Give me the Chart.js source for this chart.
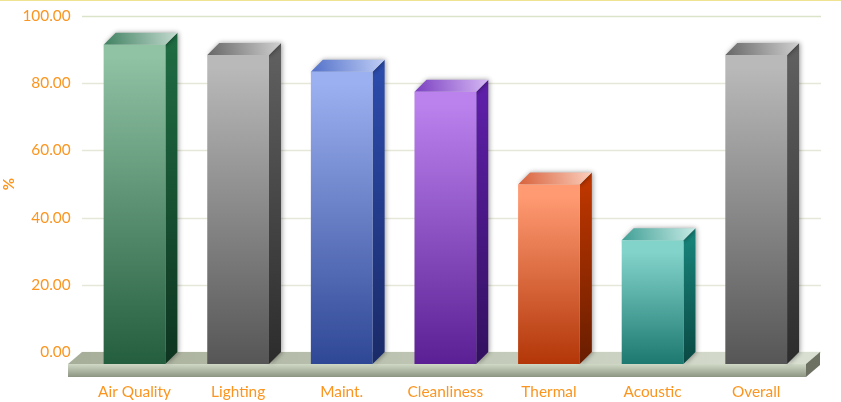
<!DOCTYPE html>
<html>
<head>
<meta charset="utf-8">
<title>Scores</title>
<script src="https://cdn.jsdelivr.net/npm/chart.js@4"></script>
<style>
  html, body { margin: 0; padding: 0; background: #fff; overflow: hidden; }
  #topline { position: absolute; left: 0; top: 0; width: 841px; height: 1px; background: #efe391; }
  canvas { display: block; }
</style>
</head>
<body>
<canvas id="chart" width="841" height="402"></canvas>
<div id="topline"></div>
<script>
const categories = ['Air Quality', 'Lighting', 'Maint.', 'Cleanliness', 'Thermal', 'Acoustic', 'Overall'];
const scores = [95, 92, 87, 81, 53.4, 36.8, 92];
const yTicks = [0, 20, 40, 60, 80, 100];

// front top, front bottom, side top, side bottom, roof dark, roof light
const palette = [
  ['#90c2a4', '#1f5a3a', '#1f6b42', '#0e3420', '#3f8060', '#c4dbd0'],
  ['#b9b9b9', '#525252', '#5f5f5f', '#2c2c2c', '#666666', '#d0d0d0'],
  ['#9bb0f0', '#2a4392', '#2b4bab', '#1a2a68', '#5270c8', '#c0cef6'],
  ['#bb82ee', '#561b90', '#5e1fa9', '#32105f', '#7a3fc0', '#d6b8f5'],
  ['#ff9a72', '#ad2f00', '#bd3600', '#681d00', '#d8603a', '#fbcfbd'],
  ['#82d3ca', '#126f67', '#178178', '#0a4843', '#3f9f95', '#c6eae5'],
  ['#b9b9b9', '#525252', '#5f5f5f', '#2c2c2c', '#666666', '#d0d0d0']
];

const ORANGE = '#fb951f';
const DEPTH = 12;
const SLAB = 13;

function vGrad(ctx, top, bottom, c1, c2) {
  const g = ctx.createLinearGradient(0, top, 0, bottom);
  g.addColorStop(0, c1);
  g.addColorStop(1, c2);
  return g;
}

function poly(ctx, pts, fill) {
  ctx.beginPath();
  pts.forEach((p, i) => i ? ctx.lineTo(p[0], p[1]) : ctx.moveTo(p[0], p[1]));
  ctx.closePath();
  ctx.fillStyle = fill;
  ctx.fill();
}

// back wall lines and the floor slab, all hung off the scales
const wallAndFloor = {
  id: 'wallAndFloor',
  beforeDatasetsDraw(chart) {
    const { ctx, scales: { y }, chartArea: a } = chart;
    const zero = y.getPixelForValue(0);
    const left = a.left - 0.7;
    const right = a.right + DEPTH + 1;

    ctx.save();
    yTicks.forEach(v => {
      const py = Math.round(y.getPixelForValue(v)) + 0.5;
      ctx.strokeStyle = v === 100 ? '#dbe4c9' : '#e5e8d9';
      ctx.lineWidth = 1.5;
      ctx.beginPath();
      ctx.moveTo(left, py);
      ctx.lineTo(right, py);
      ctx.stroke();
    });

    const fl = left - 14, fr = right - 14 - 1;
    const roof = ctx.createLinearGradient(fl, 0, fr, 0);
    roof.addColorStop(0, '#a6ad98');
    roof.addColorStop(1, '#d9dfd1');
    poly(ctx, [[left, zero], [right - 1, zero], [fr, zero + DEPTH], [fl, zero + DEPTH]], roof);
    poly(ctx, [[fl, zero + DEPTH], [fr, zero + DEPTH], [fr, zero + DEPTH + SLAB], [fl, zero + DEPTH + SLAB]],
      vGrad(ctx, zero + DEPTH, zero + DEPTH + SLAB, '#d0d8c6', '#8c9582'));
    poly(ctx, [[fr, zero + DEPTH], [right - 1, zero], [right - 1, zero + SLAB], [fr, zero + DEPTH + SLAB]], '#6c7161');
    ctx.restore();
  },
  // the library draws the front faces, shifted onto the front of the slab
  beforeDatasetDraw(chart, args) {
    const { ctx } = chart;
    ctx.save();
    ctx.translate(0, DEPTH);
    chart.getDatasetMeta(args.index).data.forEach((bar, i) => {
      const c = palette[i];
      const l = bar.x - bar.width / 2, r = bar.x + bar.width / 2;
      ctx.save();
      ctx.shadowColor = 'rgba(0,0,0,0.4)';
      ctx.shadowBlur = 5;
      ctx.shadowOffsetX = 1;
      poly(ctx, [[r, bar.y], [r + DEPTH, bar.y - DEPTH], [r + DEPTH, bar.base - DEPTH], [r, bar.base]],
        vGrad(ctx, bar.y, bar.base, c[2], c[3]));
      const roof = ctx.createLinearGradient(l, bar.y, r + DEPTH, bar.y - DEPTH);
      roof.addColorStop(0, c[4]);
      roof.addColorStop(1, c[5]);
      poly(ctx, [[l, bar.y], [l + DEPTH, bar.y - DEPTH], [r + DEPTH, bar.y - DEPTH], [r, bar.y]], roof);
      ctx.restore();
    });
  },
  afterDatasetDraw(chart) {
    chart.ctx.restore();
  }
};

new Chart(document.getElementById('chart'), {
  type: 'bar',
  plugins: [wallAndFloor],
  data: {
    labels: categories,
    datasets: [{
      data: scores,
      categoryPercentage: 1,
      barPercentage: 0.596,
      borderWidth: 0,
      backgroundColor(c) {
        const c1 = palette[c.dataIndex][0], c2 = palette[c.dataIndex][1];
        const y = c.chart.scales.y;
        if (!y || !c.parsed) return c1;
        const top = y.getPixelForValue(c.parsed.y) + DEPTH;
        const bottom = y.getPixelForValue(0) + DEPTH;
        if (!Number.isFinite(top) || !Number.isFinite(bottom)) return c1;
        return vGrad(c.chart.ctx, top, bottom, c1, c2);
      }
    }]
  },
  options: {
    responsive: false,
    animation: false,
    layout: { padding: { top: 16, right: 33, left: 0, bottom: 0 } },
    plugins: { legend: { display: false }, tooltip: { enabled: false } },
    scales: {
      x: {
        grid: { display: false, drawTicks: false },
        border: { display: false },
        ticks: { color: ORANGE, font: { family: 'Lato', size: 15.4 }, padding: 31, maxRotation: 0 },
        afterFit(s) { s.height = 50; }
      },
      y: {
        min: 0,
        max: 100,
        afterBuildTicks(s) { s.ticks = yTicks.map(v => ({ value: v })); },
        grid: { display: false, drawTicks: false },
        border: { display: false },
        title: { display: true, text: '%', color: ORANGE, font: { family: 'Lato', size: 15, weight: 'bold' }, padding: 0 },
        ticks: { color: ORANGE, font: { family: 'Lato', size: 15.4 }, padding: 12, callback: v => v.toFixed(2) },
        afterFit(s) { s.width = 82.7; s.paddingTop = 0; s.paddingBottom = 0; }
      }
    }
  }
});
</script>
</body>
</html>
